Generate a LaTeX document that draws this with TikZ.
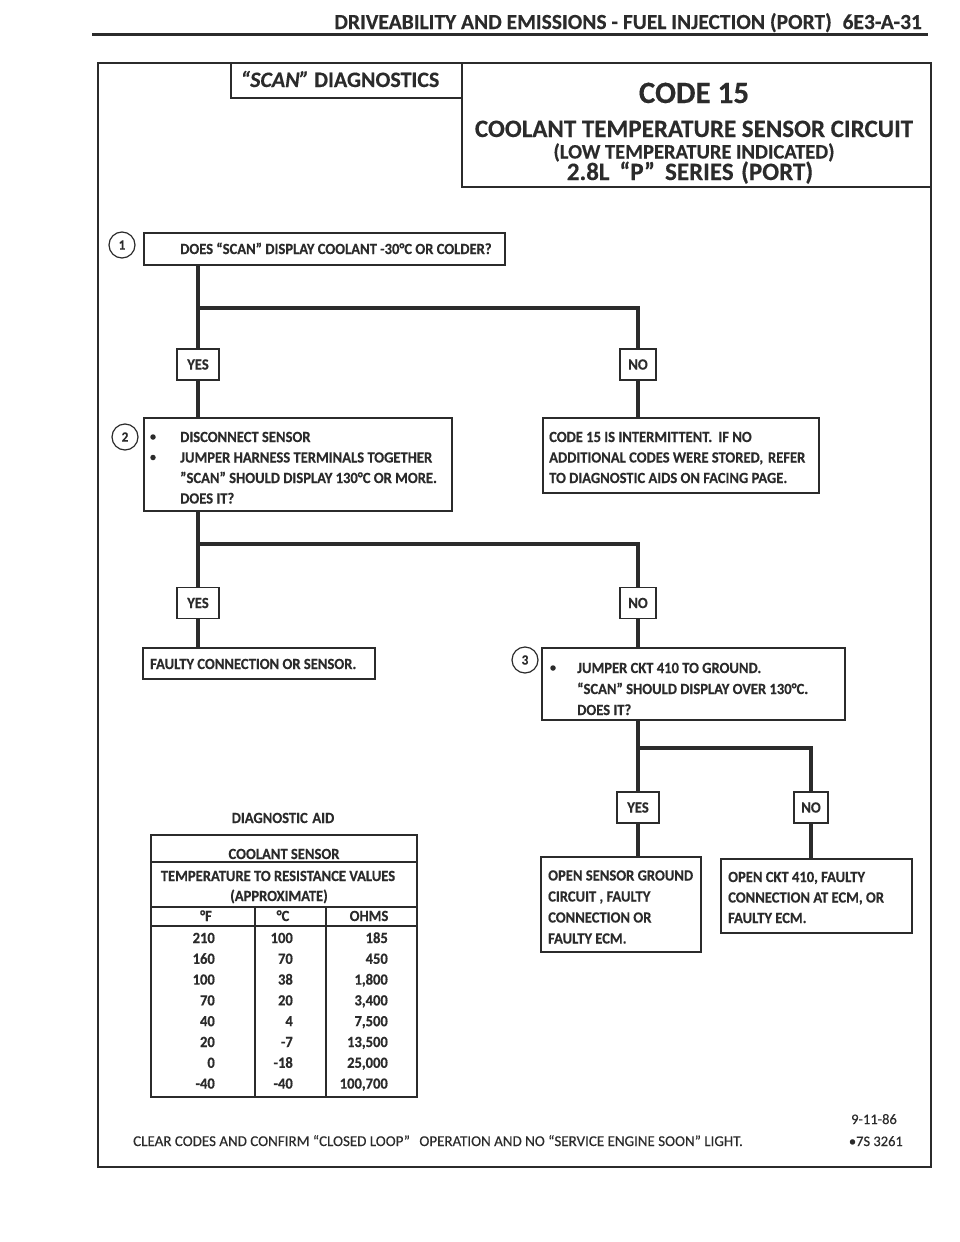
\documentclass[tikz,border=0pt]{standalone}
\usepackage{fontspec}
\setmainfont{Carlito}
\newfontfamily\cf{Carlito}[FakeStretch=0.94, FakeBold=0.35]
\newfontfamily\hf{Carlito}[FakeBold=0.3]
\definecolor{ink}{HTML}{2B2B2B}
\begin{document}
\begin{tikzpicture}[x=1pt,y=-1pt,
  every node/.style={text=ink},
  bx/.style={draw=ink, line width=1.4pt, rectangle, inner sep=0pt},
  yn/.style={bx, fill=white, minimum height=31pt, font=\cf\fontsize{15.5}{17}\selectfont\bfseries},
  txt/.style={inner sep=0pt, anchor=base west, font=\cf\fontsize{15.5}{17}\selectfont\bfseries},
  ttx/.style={inner sep=0pt, font=\cf\fontsize{15.5}{17}\selectfont\bfseries},
  flow/.style={draw=ink, line width=4.5pt},
  numc/.style={circle, draw=ink, line width=1.2pt, minimum size=26pt, inner sep=0pt, font=\cf\fontsize{14}{15}\selectfont\bfseries},
  bul/.style={circle, fill=ink, inner sep=0pt, minimum size=5.5pt},
  tline/.style={draw=ink, line width=1.3pt}
]
\useasboundingbox (0,0) rectangle (960,1242);
\fill[white] (0,0) rectangle (960,1242);

% page header
\node[anchor=base east, inner sep=0pt, font=\hf\fontsize{21.5}{24}\selectfont\bfseries] (hdr) at (922,29)
  {DRIVEABILITY AND EMISSIONS - FUEL INJECTION (PORT)\hspace{0.5em}6E3-A-31};
\coordinate (hl) at (92,34);
\coordinate (hr) at (928,34);
\draw[ink, line width=3pt] (hl) -- (hr);

% outer frame
\node[draw=ink, line width=2.5pt, minimum width=833pt, minimum height=1104pt, inner sep=0pt] (frame) at (514.5,615) {};

% title boxes
\node[bx, line width=1.8pt, minimum width=231pt, minimum height=35pt] (scanbox) at (346.5,80.5) {};
\node[bx, line width=1.8pt, minimum width=469pt, minimum height=124pt] (codebox) at (696.5,125) {};
\node[anchor=base, inner sep=0pt, font=\hf\fontsize{22}{24}\selectfont\bfseries] (scant) at (340,87) {\textit{“SCAN”} DIAGNOSTICS};
\node[anchor=base, inner sep=0pt, font=\hf\fontsize{31}{34}\selectfont\bfseries] (code) at (694,103) {CODE 15};
\node[anchor=base, inner sep=0pt, font=\hf\fontsize{25}{28}\selectfont\bfseries] (circ) at (694,137) {COOLANT TEMPERATURE SENSOR CIRCUIT};
\node[anchor=base, inner sep=0pt, font=\hf\fontsize{20.5}{22}\selectfont\bfseries] (low) at (694,158.5) {(LOW TEMPERATURE INDICATED)};
\node[anchor=base, inner sep=0pt, font=\hf\fontsize{25}{28}\selectfont\bfseries] (ser) at (690,180) {2.8L\hspace{0.4em}“P”\hspace{0.4em}SERIES\hspace{0.3em}(PORT)};

% step 1
\node[numc] (n1) at (122,245) {1};
\node[bx, minimum width=361pt, minimum height=32pt] (q1) at (324.5,249) {};
\node[txt] (q1t) at (180,254) {DOES “SCAN” DISPLAY COOLANT -30°C OR COLDER?};

\node[yn, minimum width=42pt] (yes1) at (198,364.5) {YES};
\node[yn, minimum width=36pt] (no1) at (638,364.5) {NO};

% step 2
\node[numc] (n2) at (125,437) {2};
\node[bx, minimum width=308pt, minimum height=93pt] (q2) at (298,464.5) {};
\node[bul] (b21) at (153,437) {};
\node[bul] (b22) at (153,457.5) {};
\node[txt] (q2a) at (180,442) {DISCONNECT SENSOR};
\node[txt] (q2b) at (180,462.5) {JUMPER HARNESS TERMINALS TOGETHER};
\node[txt] (q2c) at (180,483) {”SCAN” SHOULD DISPLAY 130°C OR MORE.};
\node[txt] (q2d) at (180,503.5) {DOES IT?};

\node[bx, minimum width=276pt, minimum height=75pt] (q2r) at (681,455.5) {};
\node[txt] (q2ra) at (549,442) {CODE 15 IS INTERMITTENT.\hspace{0.4em}IF NO};
\node[txt] (q2rb) at (549,462.5) {ADDITIONAL CODES WERE STORED, \hspace{0.1em}REFER};
\node[txt] (q2rc) at (549,483) {TO DIAGNOSTIC AIDS ON FACING PAGE.};

\node[yn, minimum width=42pt] (yes2) at (198,603) {YES};
\node[yn, minimum width=36pt] (no2) at (638,603) {NO};

\node[bx, minimum width=232pt, minimum height=31pt] (f1) at (259,663.5) {};
\node[txt] (f1t) at (150,669) {FAULTY CONNECTION OR SENSOR.};

% step 3
\node[numc] (n3) at (525,660) {3};
\node[bx, minimum width=303pt, minimum height=72pt] (q3) at (693.5,684) {};
\node[bul] (b31) at (553,668) {};
\node[txt] (q3a) at (577,673) {JUMPER CKT 410 TO GROUND.};
\node[txt] (q3b) at (577,694) {“SCAN” SHOULD DISPLAY OVER 130°C.};
\node[txt] (q3c) at (577,715) {DOES IT?};

\node[yn, minimum width=42pt] (yes3) at (638,807.5) {YES};
\node[yn, minimum width=34pt] (no3) at (811,807.5) {NO};

\node[bx, minimum width=160pt, minimum height=95pt] (r3y) at (621,904.5) {};
\node[txt] (r3ya) at (548,880.5) {OPEN SENSOR GROUND};
\node[txt] (r3yb) at (548,901.5) {CIRCUIT , FAULTY};
\node[txt] (r3yc) at (548,922.5) {CONNECTION OR};
\node[txt] (r3yd) at (548,943.5) {FAULTY ECM.};

\node[bx, minimum width=191pt, minimum height=74pt] (r3n) at (816.5,896) {};
\node[txt] (r3na) at (728,882) {OPEN CKT 410, FAULTY};
\node[txt] (r3nb) at (728,902.5) {CONNECTION AT ECM, OR};
\node[txt] (r3nc) at (728,923) {FAULTY ECM.};

% connectors
\coordinate (j1l) at (198,308);
\coordinate (j1r) at (638,308);
\draw[flow] (q1.south -| yes1) -- (yes1.north);
\draw[flow] (j1l) -- (j1r) -- (no1.north);
\draw[flow] (yes1.south) -- (yes1.south |- q2.north);
\draw[flow] (no1.south) -- (no1.south |- q2r.north);

\coordinate (j2l) at (198,544);
\coordinate (j2r) at (638,544);
\draw[flow] (q2.south -| yes2) -- (yes2.north);
\draw[flow] (j2l) -- (j2r) -- (no2.north);
\draw[flow] (yes2.south) -- (yes2.south |- f1.north);
\draw[flow] (no2.south) -- (no2.south |- q3.north);

\coordinate (j3l) at (638,748);
\coordinate (j3r) at (811,748);
\draw[flow] (q3.south -| yes3) -- (yes3.north);
\draw[flow] (j3l) -- (j3r) -- (no3.north);
\draw[flow] (yes3.south) -- (yes3.south |- r3y.north);
\draw[flow] (no3.south) -- (no3.south |- r3n.north);

% diagnostic aid table
\node[ttx, anchor=base] (aid) at (283,823) {DIAGNOSTIC\hspace{0.3em}AID};
\draw[tline, line width=1.5pt] (151,835) rectangle (417,1097);
\draw[tline] (151,862) -- (417,862);
\draw[tline] (151,907) -- (417,907);
\draw[tline] (151,926) -- (417,926);
\draw[tline] (255,907) -- (255,1097);
\draw[tline] (326,907) -- (326,1097);
\node[ttx, anchor=base] (th1) at (284,859) {COOLANT SENSOR};
\node[ttx, anchor=base] (th2) at (278,881) {TEMPERATURE TO RESISTANCE VALUES};
\node[ttx, anchor=base] (th3) at (279,901) {(APPROXIMATE)};
\node[ttx, anchor=base] (hF) at (206,921) {°F};
\node[ttx, anchor=base] (hC) at (283,921) {°C};
\node[ttx, anchor=base] (hO) at (369,921) {OHMS};
\foreach \f/\c/\o [count=\i from 0] in {210/100/185, 160/70/450, 100/38/{1,800}, 70/20/{3,400}, 40/4/{7,500}, 20/-7/{13,500}, 0/-18/{25,000}, -40/-40/{100,700}}{
  \node[ttx, anchor=base east] (rf\i) at (215,943+20.8*\i) {\f};
  \node[ttx, anchor=base east] (rc\i) at (293,943+20.8*\i) {\c};
  \node[ttx, anchor=base east] (ro\i) at (388,943+20.8*\i) {\o};
}

% footer
\node[anchor=base west, inner sep=0pt, font=\hf\fontsize{15}{17}\selectfont] (foot) at (133,1146)
  {CLEAR CODES AND CONFIRM “CLOSED LOOP”\hspace{0.4em} OPERATION AND NO “SERVICE ENGINE SOON” LIGHT.};
\node[anchor=base east, inner sep=0pt, font=\hf\fontsize{14.5}{17}\selectfont] (date) at (897,1124) {9-11-86};
\node[anchor=base east, inner sep=0pt, font=\hf\fontsize{14.5}{17}\selectfont] (ref) at (903,1146) {•7S 3261};
\end{tikzpicture}
\end{document}
